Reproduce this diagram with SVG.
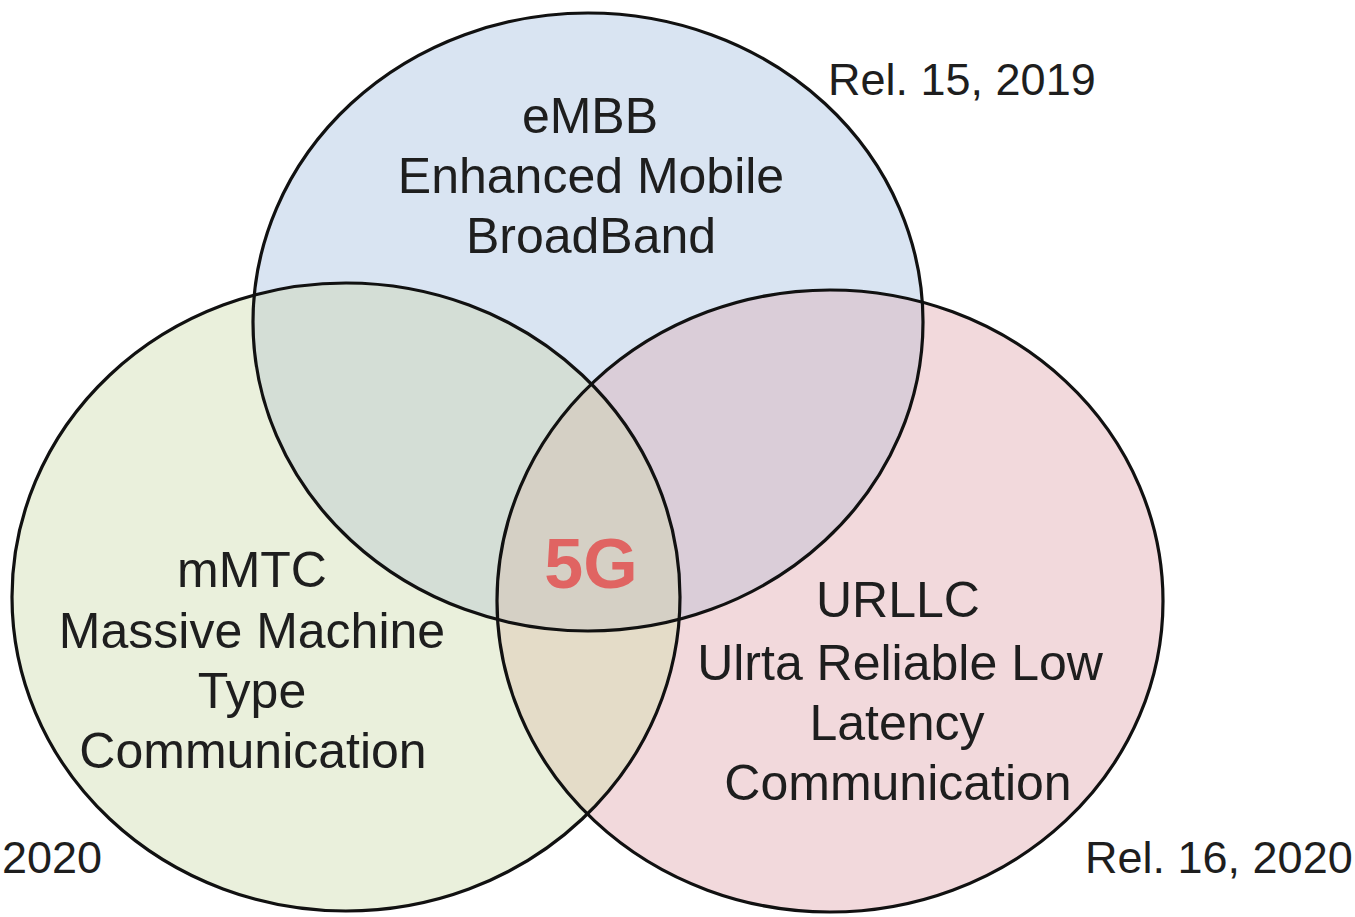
<svg xmlns="http://www.w3.org/2000/svg" width="1355" height="917" viewBox="0 0 1355 917">
  <defs>
    <clipPath id="clipE"><ellipse cx="588" cy="322" rx="335" ry="309"/></clipPath>
    <clipPath id="clipM"><ellipse cx="346" cy="597" rx="334" ry="314"/></clipPath>
  </defs>
  <style>
    .o { fill: none; stroke: #111; stroke-width: 3.2; }
    .t { font-family: "Liberation Sans", Arial, sans-serif; font-size: 50px; fill: #1e1e1e; text-anchor: middle; }
    .r { font-family: "Liberation Sans", Arial, sans-serif; font-size: 45px; fill: #1e1e1e; }
    .g { font-family: "Liberation Sans", Arial, sans-serif; font-size: 70px; font-weight: bold; fill: #e06462; text-anchor: middle; }
  </style>
  <rect width="1355" height="917" fill="#ffffff"/>
  <g id="embb">
    <ellipse cx="588" cy="322" rx="335" ry="309" fill="#d9e4f2"/>
  </g>
  <g id="mmtc">
    <ellipse cx="346" cy="597" rx="334" ry="314" fill="#eaf0dc"/>
  </g>
  <g id="urllc">
    <ellipse cx="830" cy="601" rx="333" ry="311" fill="#f2d9dc"/>
  </g>
  <g id="overlaps">
    <ellipse cx="346" cy="597" rx="334" ry="314" fill="#d4ded6" clip-path="url(#clipE)"/>
    <ellipse cx="830" cy="601" rx="333" ry="311" fill="#dacdd8" clip-path="url(#clipE)"/>
    <ellipse cx="830" cy="601" rx="333" ry="311" fill="#e4dcc8" clip-path="url(#clipM)"/>
    <g clip-path="url(#clipE)">
      <ellipse cx="830" cy="601" rx="333" ry="311" fill="#d5d0c5" clip-path="url(#clipM)"/>
    </g>
  </g>
  <g id="outlines">
    <ellipse class="o" cx="588" cy="322" rx="335" ry="309"/>
    <ellipse class="o" cx="346" cy="597" rx="334" ry="314"/>
    <ellipse class="o" cx="830" cy="601" rx="333" ry="311"/>
  </g>
  <g id="labels-embb">
    <text class="t" x="590" y="133">eMBB</text>
    <text class="t" x="591" y="193">Enhanced Mobile</text>
    <text class="t" x="591" y="253">BroadBand</text>
  </g>
  <g id="labels-mmtc">
    <text class="t" x="252" y="587">mMTC</text>
    <text class="t" x="252" y="648">Massive Machine</text>
    <text class="t" x="252" y="708">Type</text>
    <text class="t" x="253" y="768">Communication</text>
  </g>
  <g id="labels-urllc">
    <text class="t" x="898" y="617">URLLC</text>
    <text class="t" x="900" y="680">Ulrta Reliable Low</text>
    <text class="t" x="897" y="740">Latency</text>
    <text class="t" x="898" y="800">Communication</text>
  </g>
  <g id="center">
    <text class="g" x="591" y="588">5G</text>
  </g>
  <g id="releases">
    <text class="r" x="828" y="95">Rel. 15, 2019</text>
    <text class="r" x="2" y="873">2020</text>
    <text class="r" x="1085" y="873">Rel. 16, 2020</text>
  </g>
</svg>
